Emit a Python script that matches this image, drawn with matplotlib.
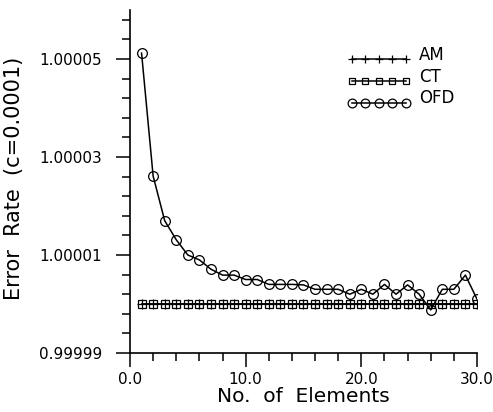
import matplotlib
import numpy as np

matplotlib.use("Agg")
import matplotlib.pyplot as plt  # noqa: E402
from matplotlib.legend_handler import HandlerLine2D  # noqa: E402
from matplotlib.ticker import FixedLocator, FormatStrFormatter  # noqa: E402

# number of elements (x) and error rates
n_elements = list(range(1, 31))
am = [1.00000] * 30
ct = [1.00000] * 30
ofd = [1.0000512, 1.0000261, 1.0000170, 1.0000131, 1.0000100, 1.0000090,
       1.0000071, 1.0000059, 1.0000059, 1.0000050, 1.0000050, 1.0000040,
       1.0000040, 1.0000040, 1.0000039, 1.0000030, 1.0000030, 1.0000030,
       1.0000020, 1.0000030, 1.0000020, 1.0000040, 1.0000020, 1.0000039,
       1.0000020, 0.9999988, 1.0000030, 1.0000030, 1.0000059, 1.0000010]

x_major = [0.0, 10.0, 20.0, 30.0]
y_major = [0.99999, 1.00001, 1.00003, 1.00005]


class UnderlineHandler(HandlerLine2D):
    """Legend entry with the line drawn under the row of markers."""

    def create_artists(self, legend, orig_handle, xdescent, ydescent,
                       width, height, fontsize, trans):
        artists = super().create_artists(legend, orig_handle, xdescent,
                                         ydescent, width, height, fontsize,
                                         trans)
        line = artists[0]
        line.set_ydata(np.asarray(line.get_ydata()) - 0.3 * fontsize)
        return artists


plt.rcParams["font.family"] = ["DejaVu Sans"]

fig = plt.figure(figsize=(4.93, 4.12), dpi=100)
ax = fig.add_axes([0.2637, 0.1432, 0.7038, 0.8325])

style = dict(color="black", linewidth=1.1, markeredgewidth=0.9)
ax.plot(n_elements, ofd, marker="o", markersize=7, markerfacecolor="none",
        label="OFD", **style)
ax.plot(n_elements, am, marker="+", markersize=7, label="AM", **style)
ax.plot(n_elements, ct, marker="s", markersize=5.5, markerfacecolor="none",
        label="CT", **style)

ax.set_xlim(0, 30)
ax.set_ylim(0.99999, 1.00006)

ax.xaxis.set_major_locator(FixedLocator(x_major))
ax.xaxis.set_minor_locator(FixedLocator(np.arange(0, 30.1, 2.0)))
ax.xaxis.set_major_formatter(FormatStrFormatter("%.1f"))
ax.yaxis.set_major_locator(FixedLocator(y_major))
ax.yaxis.set_minor_locator(FixedLocator(0.99999 + np.arange(0, 18) * 0.000004))
ax.yaxis.set_major_formatter(FormatStrFormatter("%.5f"))

for side in ("top", "right"):
    ax.spines[side].set_visible(False)
for side in ("left", "bottom"):
    ax.spines[side].set_linewidth(1.2)

ax.tick_params(which="major", direction="out", length=10, width=1.1,
               labelsize=11)
ax.tick_params(which="minor", direction="out", length=5.5, width=1.1)
ax.tick_params(axis="x", which="major", pad=4)
ax.tick_params(axis="y", which="major", pad=10)

ax.set_xlabel("No.  of  Elements", fontsize=14.5, labelpad=0)
ax.set_ylabel("Error  Rate  (c=0.0001)", fontsize=15)
ax.yaxis.set_label_coords(-0.305, 0.51)

handles, labels = ax.get_legend_handles_labels()
order = [1, 2, 0]
ax.legend([handles[i] for i in order], [labels[i] for i in order],
          handler_map={h: UnderlineHandler() for h in handles},
          loc="upper left", bbox_to_anchor=(0.625, 0.895), frameon=False,
          numpoints=5, markerscale=0.9, handlelength=3.84, handletextpad=0.5,
          borderpad=0, borderaxespad=0, labelspacing=0.22, fontsize=12)

fig.savefig("out.png", dpi=100)
